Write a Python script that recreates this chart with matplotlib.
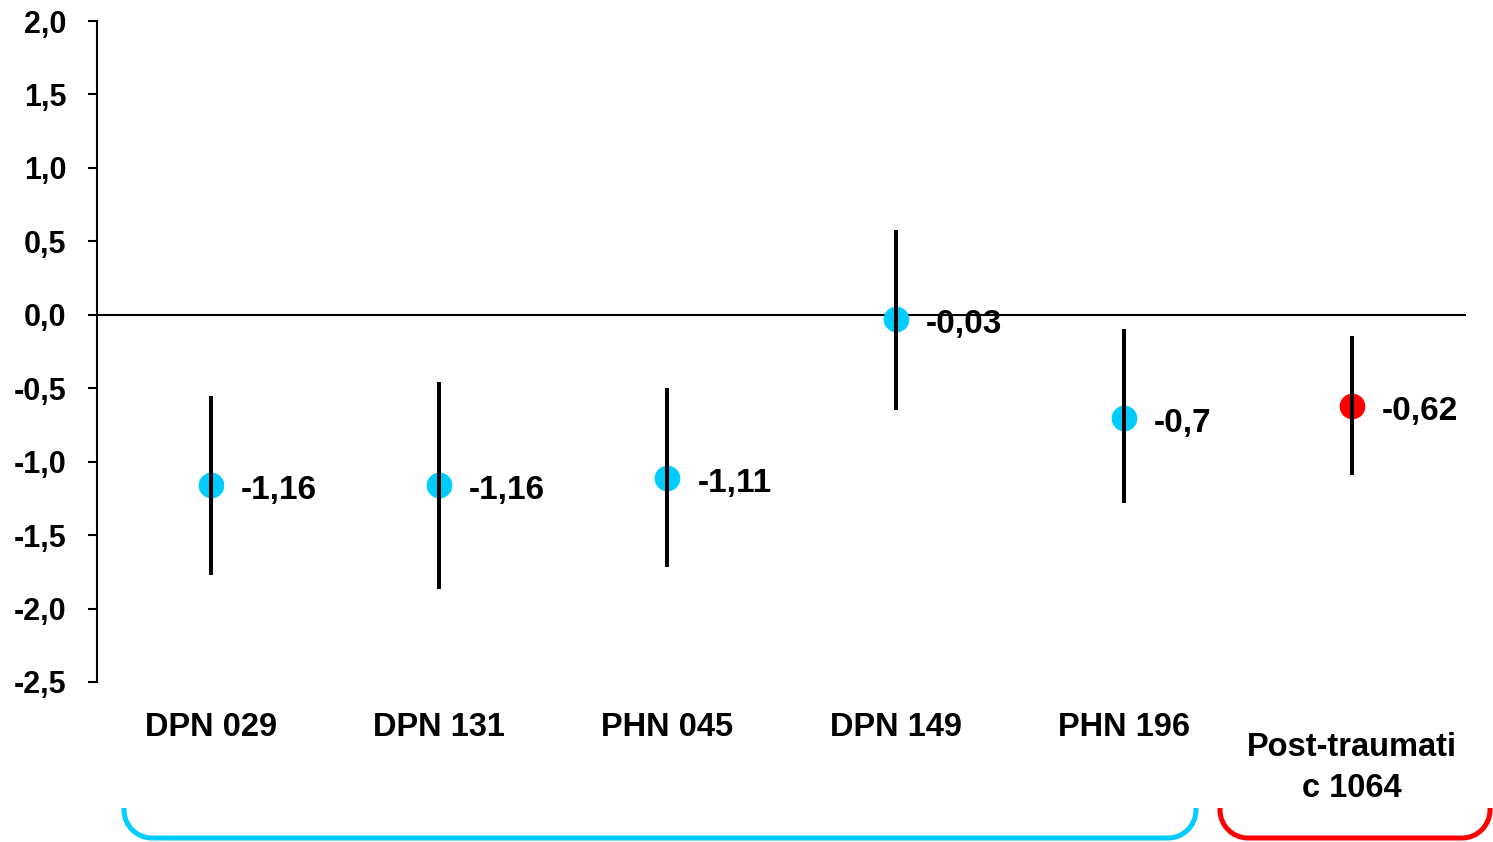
import matplotlib
matplotlib.use("Agg")
import matplotlib.pyplot as plt
from matplotlib.path import Path
from matplotlib.patches import PathPatch
from matplotlib.transforms import blended_transform_factory, IdentityTransform

plt.rcParams['font.family'] = ['Liberation Sans', 'DejaVu Sans']
plt.rcParams['font.weight'] = 'bold'

categories = ["DPN 029", "DPN 131", "PHN 045", "DPN 149", "PHN 196", "Post-traumati\nc 1064"]
means = [-1.16, -1.16, -1.11, -0.03, -0.70, -0.62]
ci_low = [-1.77, -1.87, -1.72, -0.645, -1.28, -1.09]
ci_high = [-0.55, -0.46, -0.50, 0.575, -0.10, -0.145]
point_colors = ["#00CCFF", "#00CCFF", "#00CCFF", "#00CCFF", "#00CCFF", "#FF0000"]
value_labels = ["-1,16", "-1,16", "-1,11", "-0,03", "-0,7", "-0,62"]
yticks = [2.0, 1.5, 1.0, 0.5, 0.0, -0.5, -1.0, -1.5, -2.0, -2.5]
ytick_labels = ["2,0", "1,5", "1,0", "0,5", "0,0", "-0,5", "-1,0", "-1,5", "-2,0", "-2,5"]

W, H = 1493, 842
fig = plt.figure(figsize=(W / 100, H / 100), dpi=100)
ax = fig.add_axes([97 / W, 1 - 682 / H, (1466 - 97) / W, (682 - 21) / H])

xs = list(range(len(categories)))
for x, m, lo, hi, c, lab in zip(xs, means, ci_low, ci_high, point_colors, value_labels):
    ax.plot([x], [m], 'o', color=c, markersize=18.5, markeredgewidth=0, zorder=3)
    ax.plot([x, x], [lo, hi], color='black', linewidth=2.9, solid_capstyle='butt', zorder=4)
    ax.annotate(lab, (x, m), xytext=(21.5, -4), textcoords='offset points',
                ha='left', va='center', fontsize=24, fontweight='bold', color='black', zorder=5)

ax.axhline(0, color='black', linewidth=1.5, zorder=2)

ax.set_xlim(-0.5, len(categories) - 0.5)
ax.set_ylim(-2.5, 2.0)
ax.set_yticks(yticks)
ax.set_yticklabels(ytick_labels, fontsize=22, fontweight='bold')
ax.set_xticks([])
for s in ['top', 'right', 'bottom']:
    ax.spines[s].set_visible(False)
ax.spines['left'].set_linewidth(1.5)
ax.tick_params(axis='y', direction='out', length=6.5, width=1.5, pad=15.5)

# category labels
tr = blended_transform_factory(ax.transData, fig.transFigure)
for x, cat in zip(xs, categories):
    if "\n" in cat:
        ax.text(x, 1 - 768 / H, cat, transform=tr, ha='center', va='center',
                fontsize=23.5, fontweight='bold', linespacing=1.42)
    else:
        ax.text(x, 1 - 728 / H, cat, transform=tr, ha='center', va='center',
                fontsize=23.5, fontweight='bold')

# brackets in pixel coordinates
def bracket(x0, x1, ytop, ybot, r, color):
    k = 0.5523
    verts = [(x0, ytop), (x0, ybot + r),
             (x0, ybot + r - k * r), (x0 + r - k * r, ybot), (x0 + r, ybot),
             (x1 - r, ybot),
             (x1 - r + k * r, ybot), (x1, ybot + r - k * r), (x1, ybot + r),
             (x1, ytop)]
    codes = [Path.MOVETO, Path.LINETO,
             Path.CURVE4, Path.CURVE4, Path.CURVE4,
             Path.LINETO,
             Path.CURVE4, Path.CURVE4, Path.CURVE4,
             Path.LINETO]
    p = PathPatch(Path(verts, codes), transform=IdentityTransform(), fill=False,
                  edgecolor=color, linewidth=3.6, clip_on=False)
    fig.patches.append(p)

bracket(124, 1196, H - 808, H - 838, 28, "#00CCFF")
bracket(1220, 1490, H - 808, H - 838, 28, "#FF0000")

fig.savefig("out.png", dpi=100)
